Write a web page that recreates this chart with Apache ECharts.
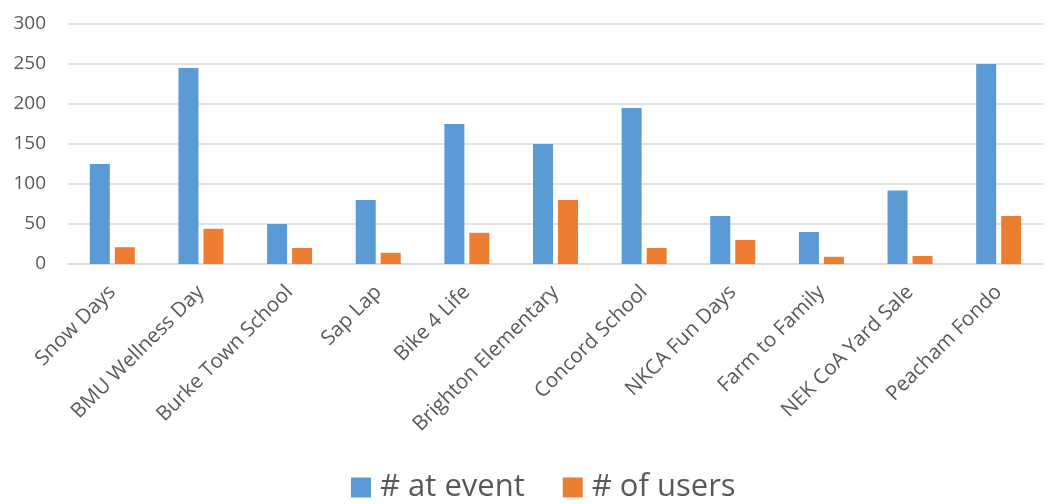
<!DOCTYPE html>
<html>
<head>
<meta charset="utf-8">
<script src="https://cdn.jsdelivr.net/npm/echarts@6/dist/echarts.min.js"></script>
<style>
  html, body { margin: 0; padding: 0; background: #fff; }
  #main { width: 1049px; height: 504px; }
</style>
</head>
<body>
<div id="main"></div>
<script>
const events = ['Snow Days', 'BMU Wellness Day', 'Burke Town School', 'Sap Lap', 'Bike 4 Life',
  'Brighton Elementary', 'Concord School', 'NKCA Fun Days', 'Farm to Family', 'NEK CoA Yard Sale', 'Peacham Fondo']
const atEvent = [125, 245, 50, 80, 175, 150, 195, 60, 40, 92, 250]
const ofUsers = [21, 44, 20, 14, 39, 80, 20, 30, 9, 10, 60]
const yTicks = [0, 50, 100, 150, 200, 250, 300]

const chart = echarts.init(document.getElementById('main'))
const font = '"Open Sans", sans-serif'

chart.setOption({
  animation: false,
  color: ['#5B9BD5', '#ED7D31'],
  grid: { left: 68, right: 6, top: 24, height: 240 },
  legend: {
    bottom: -4,
    left: 346,
    itemWidth: 20,
    itemHeight: 20,
    itemGap: 38,
    icon: 'rect',
    textStyle: { fontFamily: font, fontSize: 31, color: '#595959', padding: [0, 0, 0, 4] },
    data: ['# at event', '# of users']
  },
  xAxis: {
    type: 'category',
    data: events,
    axisLine: { lineStyle: { color: '#D9D9D9', width: 1.5 } },
    axisTick: { show: false },
    axisLabel: {
      rotate: 45,
      interval: 0,
      margin: 25,
      fontFamily: font,
      fontSize: 20.5,
      color: '#595959'
    }
  },
  yAxis: {
    type: 'value',
    min: yTicks[0],
    max: yTicks[yTicks.length - 1],
    interval: 50,
    axisLine: { show: false },
    axisTick: { show: false },
    splitLine: { lineStyle: { color: '#D9D9D9', width: 1.5 } },
    axisLabel: { fontFamily: font, fontSize: 19, color: '#595959', margin: 22 }
  },
  series: [
    { name: '# at event', type: 'bar', data: atEvent, barWidth: 20, barGap: '25%' },
    { name: '# of users', type: 'bar', data: ofUsers, barWidth: 20, barGap: '25%' }
  ]
})
</script>
</body>
</html>
